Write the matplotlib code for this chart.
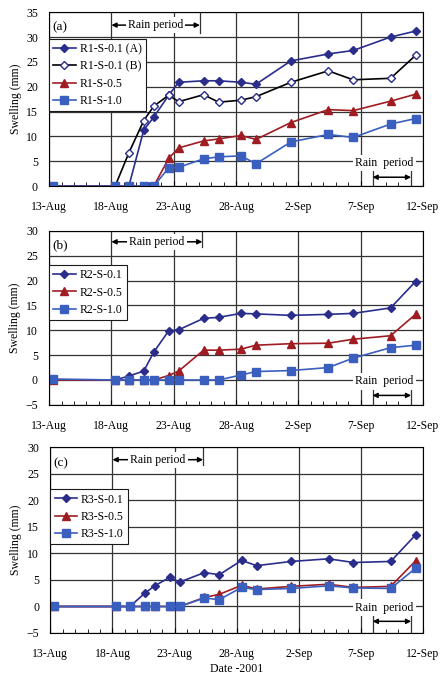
import matplotlib
matplotlib.use('Agg')
import matplotlib.pyplot as plt
from matplotlib.ticker import MultipleLocator

plt.rcParams['font.family'] = ['Liberation Serif', 'DejaVu Serif']

# measurement times, days after 13-Aug-2001
days = [0.3, 5.3, 6.4, 7.6, 8.4, 9.6, 10.4, 12.4, 13.6, 15.4, 16.6, 19.4, 22.4, 24.4, 27.4, 29.4]
date_ticks = [0, 5, 10, 15, 20, 25, 30]
date_labels = ['13-Aug', '18-Aug', '23-Aug', '28-Aug', '2-Sep', '7-Sep', '12-Sep']

# panel (a)
r1_01a = [0, 0, 0, 11.3, 13.9, 18.3, 20.9, 21.2, 21.2, 20.9, 20.5, 25.2, 26.6, 27.3, 30.0, 31.2]
r1_01b = [0, 0, 6.7, 13.2, 16.1, 18.3, 17.0, 18.4, 16.9, 17.3, 18.0, 20.9, 23.2, 21.4, 21.7, 26.3]
r1_05 = [0, 0, 0, 0, 0, 5.6, 7.7, 9.1, 9.5, 10.2, 9.4, 12.8, 15.4, 15.2, 17.1, 18.5]
r1_10 = [0, 0, 0, 0, 0, 3.7, 3.8, 5.5, 5.9, 6.1, 4.5, 8.9, 10.4, 9.8, 12.5, 13.6]

# panel (b)
r2_01 = [0, 0, 0.8, 1.8, 5.6, 9.9, 10.1, 12.4, 12.6, 13.4, 13.3, 13.0, 13.2, 13.4, 14.5, 19.8]
r2_05 = [0, 0, 0, 0, 0, 0.9, 1.8, 6.0, 6.0, 6.2, 7.0, 7.3, 7.4, 8.2, 8.9, 13.2]
r2_10 = [0.2, 0, 0, 0, 0, 0, 0, 0, 0, 1.0, 1.7, 1.9, 2.5, 4.4, 6.5, 7.0]

# panel (c)
r3_01 = [0, 0, 0, 2.5, 3.9, 5.5, 4.6, 6.4, 6.0, 8.7, 7.7, 8.5, 9.0, 8.3, 8.5, 13.5]
r3_05 = [0, 0, 0, 0, 0, 0, 0, 1.7, 2.3, 4.0, 3.3, 3.8, 4.2, 3.6, 3.8, 8.6]
r3_10 = [0, 0, 0, 0, 0, 0, 0, 1.6, 1.3, 3.6, 3.2, 3.4, 3.9, 3.5, 3.4, 7.2]

navy = '#2a2d8c'
red = '#9e1c22'
blue = '#3a5fbf'

fig = plt.figure(figsize=(4.42, 6.77), dpi=100)
ax_a = fig.add_axes([0.111, 0.725, 0.846, 0.257])
ax_b = fig.add_axes([0.111, 0.402, 0.846, 0.257])
ax_c = fig.add_axes([0.114, 0.065, 0.843, 0.274])


def style(ax, ymin, ymax, tag, leg_y, top_txt_y, bar_lo, bot_txt_y, arr_y, bar_hi, rbar):
    ax.set_xlim(0, 30)
    ax.set_ylim(ymin, ymax)
    ax.set_xticks(date_ticks)
    ax.set_xticklabels(date_labels)
    ax.xaxis.set_minor_locator(MultipleLocator(1))
    ax.yaxis.set_major_locator(MultipleLocator(5))
    ax.tick_params(axis='x', which='both', direction='in', pad=11, labelsize=8.5)
    ax.tick_params(axis='x', which='minor', length=3, width=0.6)
    ax.tick_params(axis='y', direction='in', length=0, pad=8, labelsize=8.5)
    ax.grid(True, which='major', color='0.2', lw=0.9)
    ax.set_axisbelow(True)
    for s in ax.spines.values():
        s.set_linewidth(0.8)
    ax.set_ylabel('Swelling (mm)', fontsize=8.5, labelpad=3)
    ax.text(0.008, 0.915, tag, transform=ax.transAxes, fontsize=9.5, va='center')
    leg = ax.legend(loc='upper left', bbox_to_anchor=(0, leg_y), borderaxespad=0,
                    fontsize=8.5, handlelength=1.9, handletextpad=0.35,
                    labelspacing=0.45, borderpad=0.35, fancybox=False, framealpha=1)
    leg.get_frame().set_edgecolor('0.1')
    leg.get_frame().set_linewidth(0.8)
    # top rain period
    ax.annotate('', xy=(5, top_txt_y), xytext=(rbar, top_txt_y),
                arrowprops=dict(arrowstyle='<|-|>', color='k', lw=1.1,
                                mutation_scale=7, shrinkA=0, shrinkB=0))
    ax.text((5 + rbar) / 2, top_txt_y, 'Rain period', ha='center', va='center',
            fontsize=8.5, bbox=dict(facecolor='white', edgecolor='none', pad=1.5))
    ax.plot([rbar, rbar], [bar_lo, ymax], color='0.2', lw=0.9)
    # bottom rain period
    ax.text(26.9, bot_txt_y, 'Rain  period', ha='center', va='center',
            fontsize=8.5, bbox=dict(facecolor='white', edgecolor='none', pad=1.5))
    ax.annotate('', xy=(25.95, arr_y), xytext=(29.05, arr_y),
                arrowprops=dict(arrowstyle='<|-|>', color='k', lw=1.1,
                                mutation_scale=7, shrinkA=0, shrinkB=0))
    ax.plot([25.95, 25.95], [ymin, bar_hi], color='0.2', lw=0.9)
    ax.plot([29.05, 29.05], [ymin, bar_hi], color='0.2', lw=0.9)


ax_a.plot(days, r1_01a, color=navy, lw=1.2, marker='D', ms=4.2, label='R1-S-0.1 (A)')
ax_a.plot(days, r1_01b, color='k', lw=1.2, marker='D', ms=4.2, mfc='white', mec=navy,
          label='R1-S-0.1 (B)')
ax_a.plot(days, r1_05, color=red, lw=1.2, marker='^', ms=6, label='R1-S-0.5')
ax_a.plot(days, r1_10, color=blue, lw=1.2, marker='s', ms=6, label='R1-S-1.0')
style(ax_a, 0, 35, '(a)', 0.845, 32.4, 30.8, 4.6, 1.8, 3.2, 12.1)

ax_b.plot(days, r2_01, color=navy, lw=1.2, marker='D', ms=4.2, label='R2-S-0.1')
ax_b.plot(days, r2_05, color=red, lw=1.2, marker='^', ms=6, label='R2-S-0.5')
ax_b.plot(days, r2_10, color=blue, lw=1.2, marker='s', ms=6, label='R2-S-1.0')
style(ax_b, -5, 30, '(b)', 0.803, 27.8, 26.8, -0.3, -3.1, -1.8, 12.3)

ax_c.plot(days, r3_01, color=navy, lw=1.2, marker='D', ms=4.2, label='R3-S-0.1')
ax_c.plot(days, r3_05, color=red, lw=1.2, marker='^', ms=6, label='R3-S-0.5')
ax_c.plot(days, r3_10, color=blue, lw=1.2, marker='s', ms=6, label='R3-S-1.0')
style(ax_c, -5, 30, '(c)', 0.774, 27.7, 26.7, -0.2, -2.8, -1.5, 12.3)
ax_c.set_xlabel('Date -2001', fontsize=8.5, labelpad=2)

fig.savefig('out.png', dpi=100)
